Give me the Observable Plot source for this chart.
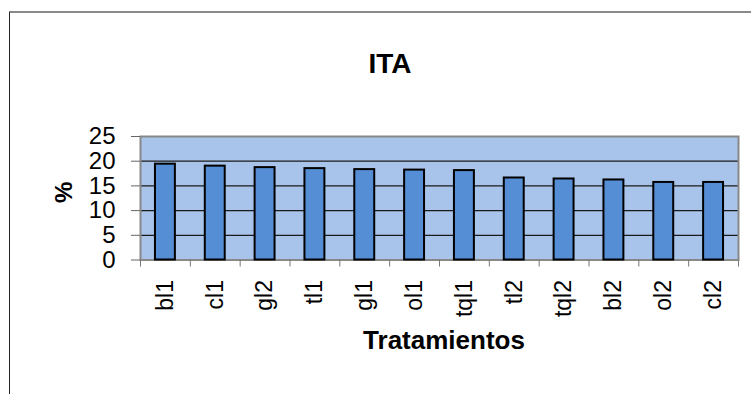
<!DOCTYPE html>
<html>
<head>
<meta charset="utf-8">
<script src="https://cdn.jsdelivr.net/npm/d3@7"></script>
<script src="https://cdn.jsdelivr.net/npm/@observablehq/plot@0.6"></script>
<style>
  html, body { margin: 0; padding: 0; background: #ffffff; }
  #wrap { position: relative; width: 751px; height: 394px; overflow: hidden; }
  #border { position: absolute; left: 9px; top: 11px; width: 800px; height: 450px;
            border-top: 2px solid #8a8a8a; border-left: 1.5px solid #222; z-index: 2; pointer-events: none; }
  #chart { position: absolute; left: 0; top: 0; z-index: 1; }
</style>
</head>
<body>
<div id="wrap"><div id="border"></div><div id="chart"></div></div>
<script>
const categories = ["bl1", "cl1", "gl2", "tl1", "gl1", "ol1", "tql1", "tl2", "tql2", "bl2", "ol2", "cl2"];
const values = [19.4, 19.0, 18.7, 18.5, 18.3, 18.2, 18.1, 16.6, 16.4, 16.2, 15.7, 15.7];
const yTicks = [0, 5, 10, 15, 20, 25];
const gridTicks = [5, 10, 15, 20];
const title = "ITA";
const xLabel = "Tratamientos";
const yLabel = "%";

const data = categories.map((c, i) => ({category: c, value: values[i]}));

const W = 751, H = 394;
const mL = 140, mR = 13, mT = 136, mB = 134.5;
const step = (W - mL - mR) / categories.length;
const font = "Liberation Sans, Arial, Helvetica, sans-serif";

const chart = Plot.plot({
  width: W,
  height: H,
  marginLeft: mL,
  marginRight: mR,
  marginTop: mT,
  marginBottom: mB,
  style: {fontFamily: font, fontSize: "22px", color: "black", background: "transparent", overflow: "visible"},
  x: {domain: categories, paddingInner: 0.6, paddingOuter: 0.3, round: false, label: null},
  y: {domain: [0, 25], label: null},
  marks: [
    Plot.frame({fill: "#a9c4ea", stroke: null}),
    Plot.gridY(gridTicks, {stroke: "#1a1a1a", strokeOpacity: 1, strokeWidth: 1.2}),
    Plot.frame({stroke: "#888888", strokeWidth: 2}),
    Plot.axisY(yTicks, {tickSize: 9, tickPadding: 16, fontSize: 24, stroke: "#666", label: null, tickFormat: d => String(d)}),
    Plot.axisX({tickSize: 7, tickPadding: 0, tickFormat: () => "", dx: -step / 2, stroke: "#777", label: null}),
    Plot.axisX([categories[categories.length - 1]], {tickSize: 7, tickPadding: 0, tickFormat: () => "", dx: step / 2, stroke: "#777", label: null}),
    Plot.text(data, {x: "category", text: "category", frameAnchor: "bottom", rotate: -90, textAnchor: "end", lineAnchor: "middle", dy: 20, fontSize: 23, fill: "#000"}),
    Plot.barY(data, {x: "category", y: "value", fill: "#558ed5", stroke: "#000", strokeWidth: 2}),
    Plot.text([title], {frameAnchor: "top", dx: -49.5, dy: -83, fontSize: 28, fontWeight: "bold", fill: "#000"}),
    Plot.text([xLabel], {frameAnchor: "bottom", dx: 4.5, dy: 88.5, fontSize: 26, fontWeight: "bold", fill: "#000"}),
    Plot.text([yLabel], {frameAnchor: "left", dx: -76.5, dy: 4.75, rotate: -90, fontSize: 24, fontWeight: "bold", fill: "#000"})
  ]
});
document.getElementById("chart").appendChild(chart);
</script>
</body>
</html>
